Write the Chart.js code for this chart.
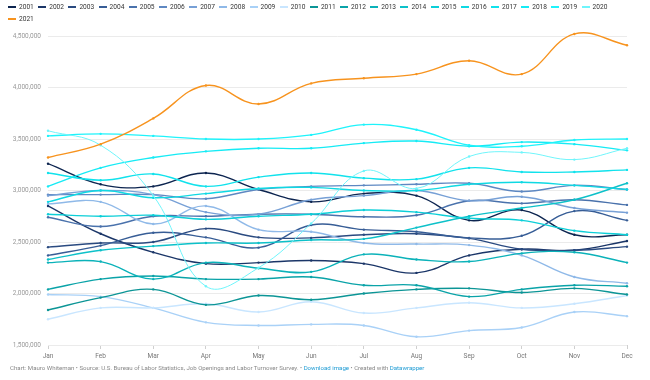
<!DOCTYPE html>
<html>
<head>
<meta charset="utf-8">
<script src="https://cdn.jsdelivr.net/npm/chart.js@4.4.1/dist/chart.umd.min.js"></script>
<style>
  html, body { margin:0; padding:0; background:#fff; }
  #wrap { position:relative; width:650px; height:380px; overflow:hidden; font-family: Roboto, "Noto Sans", sans-serif; }
  #c { position:absolute; left:0; top:0; }
  #legend { position:absolute; left:8px; top:1px; width:612px; display:flex; flex-wrap:wrap; }
  .item { width:30.2px; height:12px; display:flex; align-items:center; font-size:6.6px; color:#333; }
  .sw { width:8px; height:2px; margin-right:3px; flex:none; }
  #footer { position:absolute; left:10px; top:364px; font-size:6.1px; color:#888; white-space:nowrap; }
  #footer a { color:#1d9bd4; text-decoration:none; }
</style>
</head>
<body>
<div id="wrap">
  <canvas id="c" width="650" height="380"></canvas>
  <div id="legend"></div>
  <div id="footer">Chart: Mauro Whiteman • Source: U.S. Bureau of Labor Statistics, Job Openings and Labor Turnover Survey. • <a>Download image</a> • Created with <a>Datawrapper</a></div>
</div>
<script>
const months = ["Jan","Feb","Mar","Apr","May","Jun","Jul","Aug","Sep","Oct","Nov","Dec"];
const years = ["2001","2002","2003","2004","2005","2006","2007","2008","2009","2010","2011","2012","2013","2014","2015","2016","2017","2018","2019","2020","2021"];
const yTicks = [1500000, 2000000, 2500000, 3000000, 3500000, 4000000, 4500000];

// values in thousands
const y2001 = [3260, 3060, 3040, 3170, 3010, 2890, 2970, 2950, 2710, 2810, 2570, 2570];
const y2002 = [2850, 2580, 2400, 2290, 2300, 2320, 2290, 2200, 2370, 2430, 2420, 2510];
const y2003 = [2450, 2490, 2500, 2630, 2545, 2540, 2570, 2580, 2535, 2430, 2420, 2455];
const y2004 = [2370, 2465, 2590, 2545, 2445, 2665, 2620, 2600, 2540, 2560, 2800, 2710];
const y2005 = [2740, 2650, 2750, 2750, 2770, 2770, 2745, 2760, 2900, 2875, 2910, 2860];
const y2006 = [2960, 2960, 2960, 2920, 3010, 3040, 3050, 3060, 3070, 2990, 3050, 3010];
const y2007 = [2950, 3000, 2960, 2790, 2770, 2910, 2950, 3000, 2900, 2940, 2830, 2785];
const y2008 = [2870, 2890, 2675, 2850, 2620, 2600, 2490, 2480, 2470, 2370, 2160, 2100];
const y2009 = [1990, 1970, 1860, 1720, 1690, 1700, 1690, 1580, 1640, 1670, 1820, 1780];
const y2010 = [1750, 1860, 1860, 1900, 1820, 1920, 1810, 1860, 1910, 1860, 1900, 1980];
const y2011 = [1840, 1960, 2040, 1890, 1980, 1940, 2000, 2040, 2050, 2010, 2050, 1990];
const y2012 = [2040, 2140, 2170, 2140, 2140, 2160, 2080, 2080, 1970, 2040, 2080, 2070];
const y2013 = [2300, 2310, 2140, 2300, 2245, 2210, 2380, 2330, 2310, 2390, 2400, 2300];
const y2014 = [2330, 2420, 2460, 2490, 2490, 2520, 2530, 2640, 2750, 2830, 2910, 3070];
const y2015 = [2770, 2750, 2760, 2720, 2750, 2770, 2810, 2790, 2730, 2710, 2610, 2570];
const y2016 = [2890, 3000, 2930, 2970, 3020, 3030, 3000, 3000, 3060, 3080, 3050, 3010];
const y2017 = [3170, 3100, 3160, 3040, 3130, 3170, 3120, 3110, 3220, 3180, 3180, 3200];
const y2018 = [3040, 3220, 3320, 3380, 3410, 3410, 3460, 3480, 3430, 3470, 3450, 3390];
const y2019 = [3530, 3550, 3530, 3500, 3500, 3540, 3640, 3590, 3440, 3430, 3490, 3500];
const y2020 = [3580, 3440, 2950, 2070, 2250, 2680, 3190, 3020, 3330, 3370, 3300, 3410];
const y2021 = [3320, 3450, 3700, 4020, 3840, 4040, 4090, 4130, 4260, 4130, 4520, 4410];

const series = [y2001,y2002,y2003,y2004,y2005,y2006,y2007,y2008,y2009,y2010,y2011,y2012,y2013,y2014,y2015,y2016,y2017,y2018,y2019,y2020,y2021];
const colors = ["#0d2550","#1b3668","#2a4a80","#375d96","#4a72ac","#5e88c2","#77a0d6","#8fb9e8","#a9d1f7","#c9e6ff",
                "#0c9596","#0aa3a8","#0bb2b9","#0dc1c9","#0ccfd8","#0fd9e3","#11e2ec","#16ebf5","#1ff3fb","#6ff5fb","#f7931e"];

// HTML legend
const lg = document.getElementById('legend');
years.forEach((y,i) => {
  const it = document.createElement('div'); it.className='item';
  const sw = document.createElement('span'); sw.className='sw'; sw.style.background = colors[i];
  const t = document.createElement('span'); t.textContent = y;
  it.appendChild(sw); it.appendChild(t); lg.appendChild(it);
});

const datasets = series.map((s,i) => ({
  label: years[i],
  data: s.map(v => v*1000),
  borderColor: colors[i],
  backgroundColor: colors[i],
  borderWidth: i===19 ? 1 : 1.4,
  pointRadius: 1.2,
  pointBorderWidth: 0,
  pointBackgroundColor: colors[i],
  tension: 0.4,
  fill: false,
  clip: false,
  order: 21 - i
}));

new Chart(document.getElementById('c'), {
  type: 'line',
  data: { labels: months, datasets },
  options: {
    responsive: false,
    animation: false,
    devicePixelRatio: 1,
    layout: { padding: { top: 36, right: 23, bottom: 15, left: 0 } },
    plugins: { legend: { display: false }, tooltip: { enabled: false } },
    scales: {
      x: {
        offset: false,
        afterFit: s => { s.height = 20; },
        grid: { display: true, drawOnChartArea: false, drawTicks: true, tickLength: 4, color: '#cfcfcf' },
        border: { display: false },
        ticks: { color: '#777', font: { family: 'Roboto', size: 6.5 }, padding: 3, maxRotation: 0, autoSkip: false }
      },
      y: {
        min: yTicks[0], max: yTicks[yTicks.length-1],
        afterFit: s => { s.width = 48; },
        afterBuildTicks: s => { s.ticks = yTicks.map(v => ({ value: v })); },
        grid: { color: '#ebebeb', drawTicks: false },
        border: { display: false },
        ticks: { color: '#999', font: { family: 'Roboto', size: 6.5 }, padding: 7,
                 callback: v => v.toLocaleString('en-US') }
      }
    }
  }
});
</script>
</body>
</html>
